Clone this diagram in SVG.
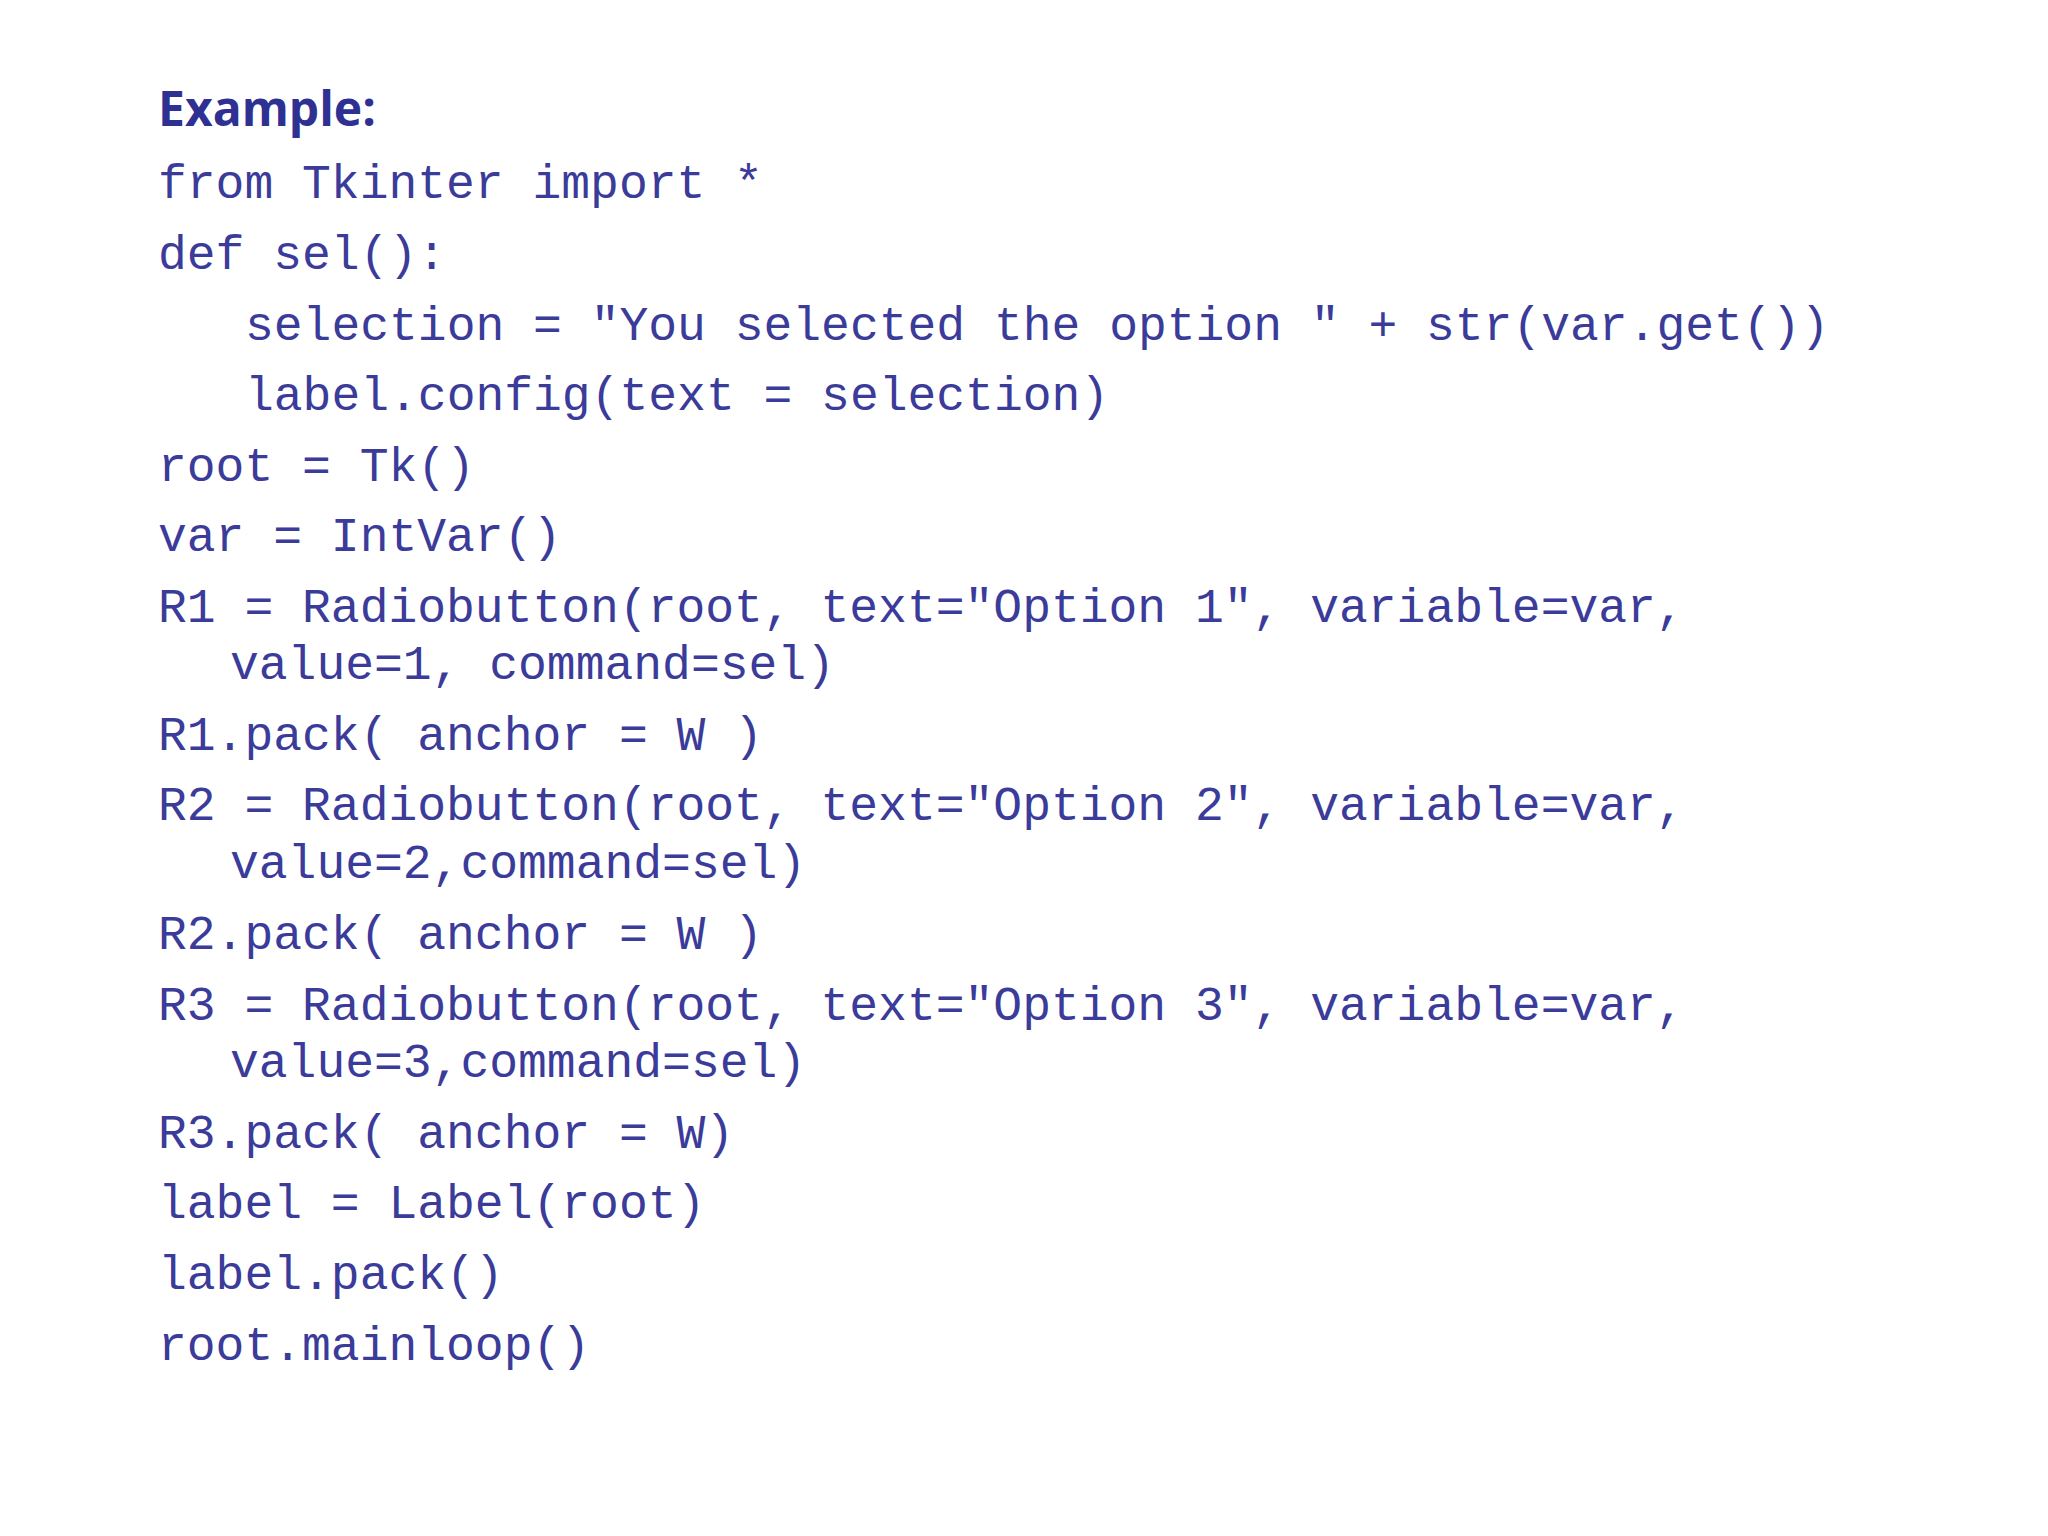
<svg xmlns="http://www.w3.org/2000/svg" width="2048" height="1536" viewBox="0 0 2048 1536">
<style>
.h{font-family:"Open Sans","Noto Sans",sans-serif;font-weight:bold;font-size:48px;fill:#2e3192}
.c{font-family:"Liberation Mono",monospace;font-size:48px;fill:#3b3b9a;white-space:pre}
</style>
<rect width="2048" height="1536" fill="#fff"/>
<text class="h" x="158" y="126">Example:</text>
<g xml:space="preserve">
<text class="c" x="158" y="198">from Tkinter import *</text>
<text class="c" x="158" y="269">def sel():</text>
<text class="c" x="245" y="340">selection = "You selected the option " + str(var.get())</text>
<text class="c" x="245" y="410">label.config(text = selection)</text>
<text class="c" x="158" y="481">root = Tk()</text>
<text class="c" x="158" y="551">var = IntVar()</text>
<text class="c" x="158" y="622">R1 = Radiobutton(root, text="Option 1", variable=var,</text>
<text class="c" x="230" y="679">value=1, command=sel)</text>
<text class="c" x="158" y="750">R1.pack( anchor = W )</text>
<text class="c" x="158" y="820">R2 = Radiobutton(root, text="Option 2", variable=var,</text>
<text class="c" x="230" y="878">value=2,command=sel)</text>
<text class="c" x="158" y="949">R2.pack( anchor = W )</text>
<text class="c" x="158" y="1020">R3 = Radiobutton(root, text="Option 3", variable=var,</text>
<text class="c" x="230" y="1077">value=3,command=sel)</text>
<text class="c" x="158" y="1148">R3.pack( anchor = W)</text>
<text class="c" x="158" y="1218">label = Label(root)</text>
<text class="c" x="158" y="1289">label.pack()</text>
<text class="c" x="158" y="1360">root.mainloop()</text>
</g>
</svg>
